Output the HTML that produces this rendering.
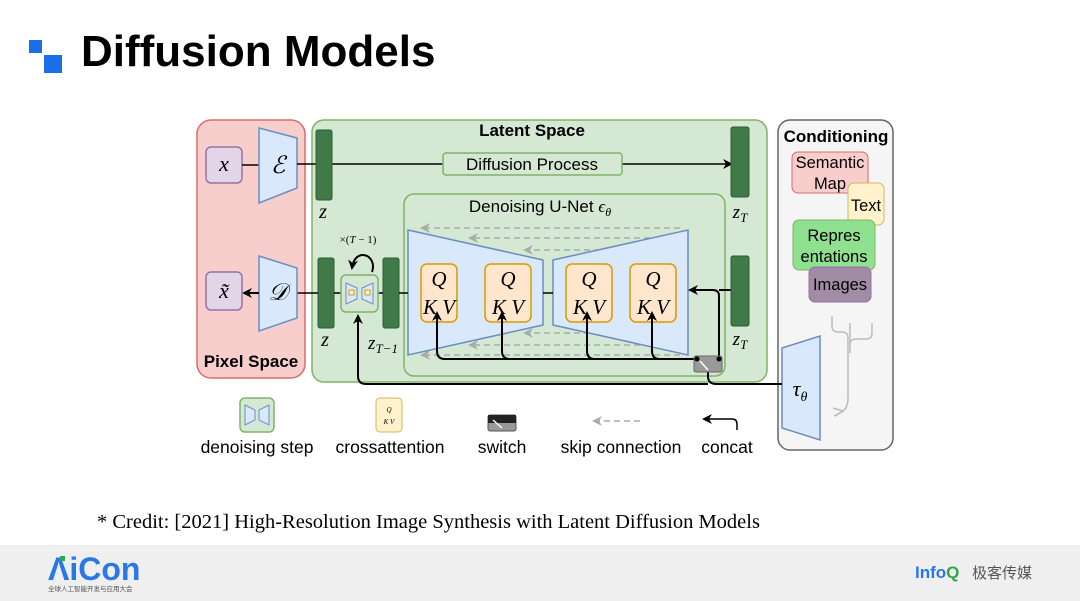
<!DOCTYPE html>
<html><head><meta charset="utf-8"><style>
body{margin:0;width:1080px;height:601px;background:#fff;overflow:hidden;font-family:"Liberation Sans",sans-serif;position:relative}
</style></head><body>
<svg width="1080" height="601" style="position:absolute;left:0;top:0" font-family="Liberation Sans, sans-serif">
<defs>
<marker id="ah" markerWidth="10" markerHeight="10" refX="8" refY="5" orient="auto" markerUnits="userSpaceOnUse"><path d="M0,0 L10,5 L0,10 L3,5z" fill="#000"/></marker>
<marker id="ag" markerWidth="10" markerHeight="10" refX="8" refY="5" orient="auto" markerUnits="userSpaceOnUse"><path d="M0,0 L10,5 L0,10 L3,5z" fill="#aaa"/></marker>
</defs>
<!-- title -->
<rect x="29" y="40" width="13" height="13" fill="#1a6fe8"/><rect x="44" y="55" width="18" height="18" fill="#1a6fe8"/>
<text x="81" y="66" font-size="44" font-weight="bold" fill="#000">Diffusion Models</text>
<!-- pixel space -->
<rect x="197" y="120" width="108" height="258" rx="14" fill="#f8cecc" stroke="#d76c6c" stroke-width="1.5"/>
<text x="251" y="367" font-size="17" font-weight="bold" text-anchor="middle">Pixel Space</text>
<!-- latent -->
<rect x="312" y="120" width="455" height="262" rx="12" fill="#d5e8d4" stroke="#82b366" stroke-width="1.5"/>
<text x="532" y="136" font-size="17" font-weight="bold" text-anchor="middle">Latent Space</text>
<!-- conditioning -->
<rect x="778" y="120" width="115" height="330" rx="12" fill="#f5f5f5" stroke="#666" stroke-width="1.5"/>
<text x="836" y="142" font-size="17" font-weight="bold" text-anchor="middle">Conditioning</text>
<rect x="792" y="152" width="76" height="41" rx="6" fill="#f8cecc" stroke="#d76c6c"/>
<text x="830" y="168" font-size="16.5" text-anchor="middle">Semantic</text>
<text x="830" y="189" font-size="16.5" text-anchor="middle">Map</text>
<rect x="848" y="183" width="36" height="42" rx="6" fill="#fff2cc" stroke="#d6b656"/>
<text x="866" y="211" font-size="16.5" text-anchor="middle">Text</text>
<rect x="793" y="220" width="82" height="50" rx="6" fill="#8fe08f" stroke="#82b366"/>
<text x="834" y="241" font-size="16.5" text-anchor="middle">Repres</text>
<text x="834" y="262" font-size="16.5" text-anchor="middle">entations</text>
<rect x="809" y="267" width="62" height="35" rx="6" fill="#a28ba4" stroke="#9673a6"/>
<text x="840" y="290" font-size="16.5" text-anchor="middle">Images</text>
<g stroke="#bbb" stroke-width="1.5" fill="none">
<path d="M832,316 v10 q0,6 6,6 h4 q6,0 6,6 v60 q0,10 -6,14 l-8,4"/>
<path d="M850,323 v30"/><path d="M872,323 v10 q0,6 -6,6 h-10 q-6,0 -6,6"/>
</g>
<path d="M843,411 l-10,-3 M843,411 l-8,5" stroke="#bbb" stroke-width="1.5"/>
<polygon points="782,348 820,336 820,440 782,428" fill="#dae8fc" stroke="#6c8ebf" stroke-width="1.5"/>
<text x="800" y="396" font-size="22" font-style="italic" font-family="Liberation Serif,serif" text-anchor="middle">τ<tspan font-size="14" dy="5">θ</tspan></text>
<!-- top row -->
<rect x="206" y="147" width="36" height="36" rx="5" fill="#e1d5e7" stroke="#9673a6" stroke-width="1.5"/>
<text x="224" y="171" font-size="22" font-style="italic" font-family="Liberation Serif,serif" text-anchor="middle">x</text>
<line x1="242" y1="165" x2="259" y2="165" stroke="#000" stroke-width="1.5"/>
<polygon points="259,128 297,138 297,188 259,203" fill="#dae8fc" stroke="#6c8ebf" stroke-width="1.5"/>
<text x="278" y="173" font-size="24" font-style="italic" font-family="Liberation Serif,serif" text-anchor="middle">ℰ</text>
<line x1="297" y1="164" x2="731" y2="164" stroke="#000" stroke-width="1.5" marker-end="url(#ah)"/>
<rect x="316" y="130" width="16" height="70" rx="2" fill="#3f7a48" stroke="#2d5e35"/>
<text x="323" y="218" font-size="20" font-style="italic" font-family="Liberation Serif,serif" text-anchor="middle">z</text>
<rect x="443" y="153" width="179" height="22" rx="3" fill="#d5e8d4" stroke="#82b366" stroke-width="1.5"/>
<text x="532" y="170" font-size="17" text-anchor="middle">Diffusion Process</text>
<rect x="731" y="127" width="18" height="70" rx="2" fill="#3f7a48" stroke="#2d5e35"/>
<text x="740" y="218" font-size="19" font-style="italic" font-family="Liberation Serif,serif" text-anchor="middle">z<tspan font-size="13" dy="4">T</tspan></text>
<!-- unet -->
<rect x="404" y="194" width="321" height="182" rx="10" fill="#d5e8d4" stroke="#82b366" stroke-width="1.5"/>
<text x="540" y="212" font-size="17" text-anchor="middle">Denoising U-Net <tspan font-style="italic" font-family="Liberation Serif,serif">ϵ<tspan font-size="12" dy="4">θ</tspan></tspan></text>
<g stroke="#aaa" stroke-width="1.5" stroke-dasharray="6,4" fill="none">
<line x1="680" y1="228" x2="422" y2="228" marker-end="url(#ag)"/>
<line x1="670" y1="238" x2="470" y2="238" marker-end="url(#ag)"/>
<line x1="660" y1="250" x2="525" y2="250" marker-end="url(#ag)"/>
<line x1="660" y1="333" x2="525" y2="333" marker-end="url(#ag)"/>
<line x1="670" y1="345" x2="470" y2="345" marker-end="url(#ag)"/>
<line x1="680" y1="355" x2="422" y2="355" marker-end="url(#ag)"/>
</g>
<polygon points="408,230 543,260 543,325 408,355" fill="#dae8fc" stroke="#6c8ebf" stroke-width="1.5"/>
<polygon points="553,260 688,230 688,355 553,325" fill="#dae8fc" stroke="#6c8ebf" stroke-width="1.5"/>
<line x1="543" y1="293" x2="553" y2="293" stroke="#000" stroke-width="1.5"/>
<g font-family="Liberation Serif,serif" font-style="italic" font-size="21" text-anchor="middle">
<rect x="421" y="264" width="36" height="58" rx="6" fill="#ffe6cc" stroke="#d79b00" stroke-width="1.5"/><text x="439" y="286">Q</text><text x="439" y="314">K V</text>
<rect x="485" y="264" width="46" height="58" rx="6" fill="#ffe6cc" stroke="#d79b00" stroke-width="1.5"/><text x="508" y="286">Q</text><text x="508" y="314">K V</text>
<rect x="566" y="264" width="46" height="58" rx="6" fill="#ffe6cc" stroke="#d79b00" stroke-width="1.5"/><text x="589" y="286">Q</text><text x="589" y="314">K V</text>
<rect x="630" y="264" width="46" height="58" rx="6" fill="#ffe6cc" stroke="#d79b00" stroke-width="1.5"/><text x="653" y="286">Q</text><text x="653" y="314">K V</text>
</g>
<!-- cross attention arrows -->
<g stroke="#000" stroke-width="2" fill="none">
<path d="M697,359 H445 q-8,0 -8,-8 V313" marker-end="url(#ah)"/>
<path d="M510,359 q-8,0 -8,-8 V313" marker-end="url(#ah)"/>
<path d="M595,359 q-8,0 -8,-8 V313" marker-end="url(#ah)"/>
<path d="M660,359 q-8,0 -8,-8 V313" marker-end="url(#ah)"/>
<path d="M719,359 V296 q0,-6 -6,-6 H690" marker-end="url(#ah)"/>
<path d="M731,290 H719"/>
<path d="M708,364 v12 q0,8 8,8 H782"/>
<path d="M708,384 H366 q-8,0 -8,-8 V316" marker-end="url(#ah)"/>
</g>
<rect x="694" y="356" width="28" height="16" rx="2" fill="#999" stroke="#666"/>
<circle cx="697" cy="359" r="2.5" fill="#000"/><circle cx="719" cy="359" r="2.5" fill="#000"/>
<line x1="700" y1="361" x2="708" y2="370" stroke="#fff" stroke-width="1.5"/>
<!-- bottom row -->
<rect x="318" y="258" width="16" height="70" rx="2" fill="#3f7a48" stroke="#2d5e35"/>
<text x="325" y="346" font-size="20" font-style="italic" font-family="Liberation Serif,serif" text-anchor="middle">z</text>
<rect x="383" y="258" width="16" height="70" rx="2" fill="#3f7a48" stroke="#2d5e35"/>
<text x="383" y="349" font-size="19" font-style="italic" font-family="Liberation Serif,serif" text-anchor="middle">z<tspan font-size="13" dy="4">T−1</tspan></text>
<rect x="731" y="256" width="18" height="70" rx="2" fill="#3f7a48" stroke="#2d5e35"/>
<text x="740" y="345" font-size="19" font-style="italic" font-family="Liberation Serif,serif" text-anchor="middle">z<tspan font-size="13" dy="4">T</tspan></text>
<line x1="399" y1="293" x2="408" y2="293" stroke="#000" stroke-width="1.5"/>
<line x1="378" y1="293" x2="383" y2="293" stroke="#000" stroke-width="1.5"/>
<line x1="334" y1="293" x2="341" y2="293" stroke="#000" stroke-width="1.5"/>
<line x1="297" y1="293" x2="318" y2="293" stroke="#000" stroke-width="1.5"/>
<rect x="341" y="275" width="37" height="37" rx="5" fill="#d5e8d4" stroke="#82b366" stroke-width="1.5"/>
<polygon points="346,283 357,288 357,299 346,304" fill="#dae8fc" stroke="#6c8ebf"/>
<polygon points="362,288 373,283 373,304 362,299" fill="#dae8fc" stroke="#6c8ebf"/>
<rect x="349" y="290" width="5" height="5" fill="#fff2cc" stroke="#d79b00"/><rect x="365" y="290" width="5" height="5" fill="#fff2cc" stroke="#d79b00"/>
<path d="M372,272 C378,255 355,246 352,268" stroke="#000" stroke-width="2" fill="none" marker-end="url(#ah)"/>
<text x="358" y="243" font-size="11" font-family="Liberation Serif,serif" text-anchor="middle">×(<tspan font-style="italic">T</tspan> − 1)</text>
<polygon points="259,256 297,268 297,318 259,331" fill="#dae8fc" stroke="#6c8ebf" stroke-width="1.5"/>
<text x="278" y="300" font-size="24" font-style="italic" font-family="Liberation Serif,serif" text-anchor="middle">𝒟</text>
<line x1="259" y1="293" x2="244" y2="293" stroke="#000" stroke-width="2" marker-end="url(#ah)"/>
<rect x="206" y="272" width="36" height="38" rx="5" fill="#e1d5e7" stroke="#9673a6" stroke-width="1.5"/>
<text x="224" y="298" font-size="22" font-style="italic" font-family="Liberation Serif,serif" text-anchor="middle">x̃</text>
<!-- legend -->
<rect x="240" y="398" width="34" height="34" rx="5" fill="#d5e8d4" stroke="#82b366" stroke-width="1.5"/>
<polygon points="245,405 255,410 255,420 245,425" fill="#dae8fc" stroke="#6c8ebf"/>
<polygon points="259,410 269,405 269,425 259,420" fill="#dae8fc" stroke="#6c8ebf"/>
<rect x="376" y="398" width="26" height="34" rx="4" fill="#fff2cc" stroke="#d6b656"/>
<text x="389" y="412" font-size="7" font-style="italic" font-family="Liberation Serif,serif" text-anchor="middle">Q</text>
<text x="389" y="424" font-size="7" font-style="italic" font-family="Liberation Serif,serif" text-anchor="middle">K V</text>
<rect x="488" y="415" width="28" height="16" rx="2" fill="#999" stroke="#555"/>
<rect x="488" y="415" width="28" height="8" fill="#222"/>
<line x1="493" y1="420" x2="502" y2="428" stroke="#fff" stroke-width="1.5"/>
<line x1="640" y1="421" x2="594" y2="421" stroke="#aaa" stroke-width="1.5" stroke-dasharray="6,4" marker-end="url(#ag)"/>
<path d="M737,430 v-6 q0,-5 -5,-5 H704" stroke="#000" stroke-width="1.5" fill="none" marker-end="url(#ah)"/>
<g font-size="17.5" text-anchor="middle">
<text x="257" y="453">denoising step</text>
<text x="390" y="453">crossattention</text>
<text x="502" y="453">switch</text>
<text x="621" y="453">skip connection</text>
<text x="727" y="453">concat</text>
</g>
<text x="97" y="528" font-size="20.5" font-family="Liberation Serif,serif">* Credit: [2021] High-Resolution Image Synthesis with Latent Diffusion Models</text>
<!-- footer -->
<rect x="0" y="545" width="1080" height="56" fill="#efefef"/>
<text x="48" y="580" font-size="32" font-weight="bold" fill="#2a78e8">ΛiCon</text>
<rect x="60" y="556" width="5" height="5" fill="#2aa84a"/>
<text x="48" y="591" font-size="6.5" fill="#555" font-family="Liberation Sans,Noto Sans CJK SC,sans-serif">全球人工智能开发与应用大会</text>
<text x="915" y="578" font-size="17" font-weight="bold" fill="#2a78e8">Info<tspan fill="#2aa84a">Q</tspan></text>
<text x="972" y="578" font-size="15" fill="#555" font-family="Liberation Sans,Noto Sans CJK SC,sans-serif">极客传媒</text>
</svg>
</body></html>
